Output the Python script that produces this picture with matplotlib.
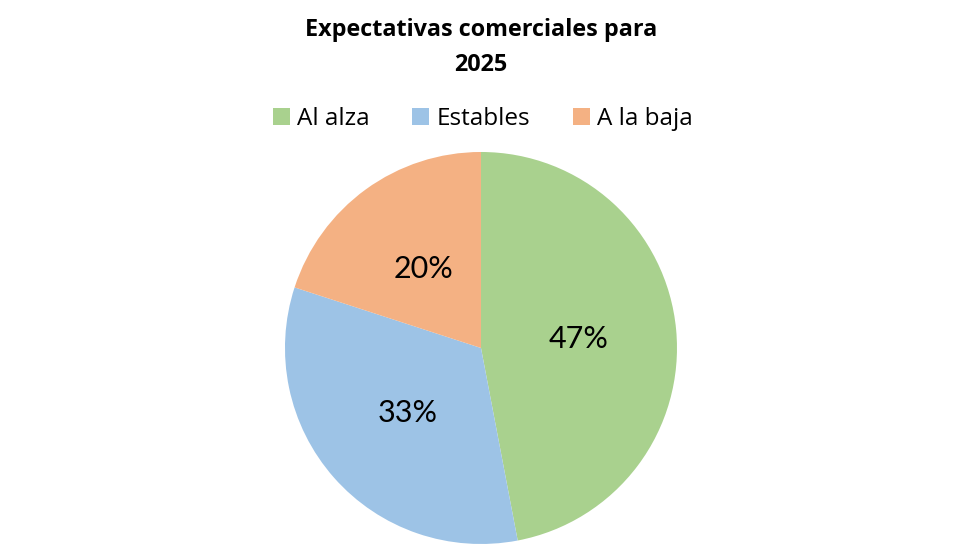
import matplotlib
matplotlib.use('Agg')
import matplotlib.pyplot as plt
from matplotlib.patches import Patch

# Datos
categorias = ['Al alza', 'Estables', 'A la baja']
valores = [47, 33, 20]
colores = ['#A9D18E', '#9DC3E6', '#F4B183']
titulo = 'Expectativas comerciales para\n2025'

fig = plt.figure(figsize=(9.8, 5.6), dpi=100)
ax = fig.add_axes([0.2908, 0.0286, 0.4, 0.7])

wedges, textos, pcts = ax.pie(
    valores, colors=colores, startangle=90, counterclock=False,
    autopct='%1.0f%%', pctdistance=0.5,
    textprops={'fontsize': 22, 'family': 'Lato'}
)
ax.set_xlim(-1, 1)
ax.set_ylim(-1, 1)
ax.set_aspect('equal')

fig.text(0.4908, 0.968, titulo, ha='center', va='top', fontsize=16.8,
         fontweight='bold', family='Open Sans', linespacing=1.6)

handles = [Patch(facecolor=c, edgecolor='none') for c in colores]
fig.legend(handles, categorias, loc='center', bbox_to_anchor=(0.4928, 0.787),
           ncol=3, frameon=False, prop={'family': 'Open Sans', 'size': 17.5},
           handlelength=0.7, handleheight=0.7, handletextpad=0.3, columnspacing=1.75)

plt.savefig('out.png', dpi=100)
